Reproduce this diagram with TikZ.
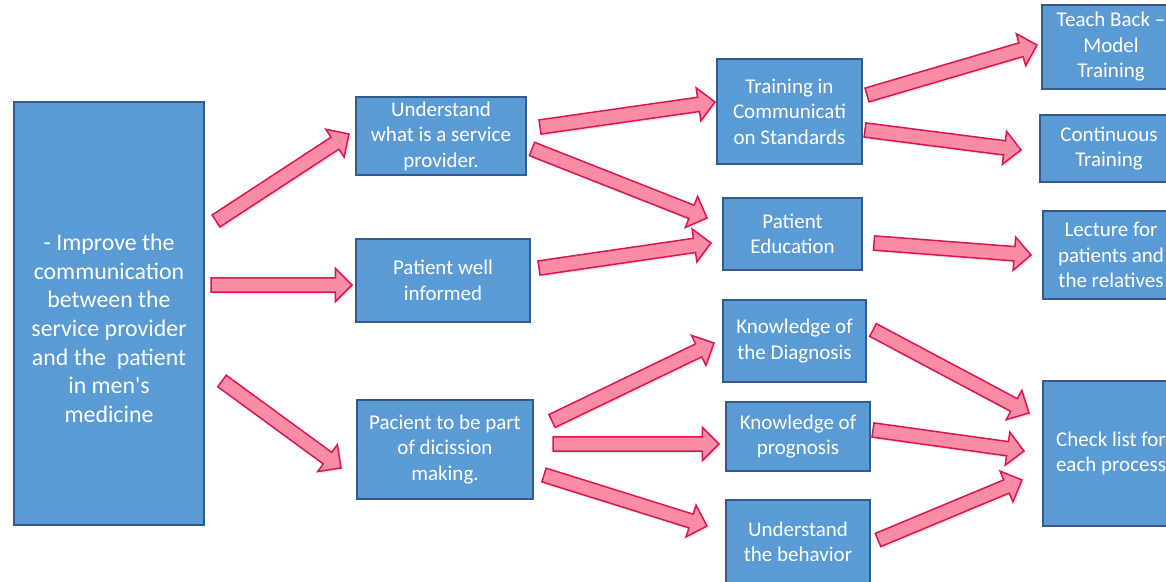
\documentclass[tikz,border=0pt]{standalone}
\usepackage{fontspec}
\setmainfont{Carlito}
\usetikzlibrary{calc,shadows}
\definecolor{boxblue}{RGB}{91,155,213}
\definecolor{boxline}{RGB}{50,90,138}
\definecolor{arrowpink}{RGB}{250,140,165}
\definecolor{arrowline}{RGB}{222,20,82}

\newcommand{\barrow}[2]{%
\filldraw[bar] let \p1=(#1), \p2=(#2), \n1={atan2(\y2-\y1,\x2-\x1)}, \n2={veclen(\x2-\x1,\y2-\y1)} in
  ($(\p1)+({\n1+90}:4.3pt)$) -- ($(\p1)+({\n1}:{\n2-10pt})+({\n1+90}:4.3pt)$)
  -- ($(\p1)+({\n1}:{\n2-10pt})+({\n1+90}:10pt)$) -- (\p2)
  -- ($(\p1)+({\n1}:{\n2-10pt})+({\n1-90}:10pt)$) -- ($(\p1)+({\n1}:{\n2-10pt})+({\n1-90}:4.3pt)$)
  -- ($(\p1)+({\n1-90}:4.3pt)$) -- cycle;}

\begin{document}
\begin{tikzpicture}[x=0.6pt, y=-0.6pt,
  box/.style={draw=boxline, line width=1.2pt, fill=boxblue, text=white, align=center, inner sep=1pt, font=\fontsize{12.6}{15.3}\selectfont},
  bar/.style={draw=arrowline, line width=0.9pt, fill=arrowpink, line join=miter, drop shadow={opacity=0.18, shadow xshift=1.2pt, shadow yshift=-1.2pt}}]

\clip (0,0) rectangle (1166,581);

\node[box, minimum width=114pt, minimum height=253.8pt, font=\fontsize{14.3}{17.2}\selectfont] at (109,313.5) (main)
  {\raisebox{-14pt}[0pt][0pt]{\begin{tabular}{@{}c@{}}- Improve the\\communication\\between the\\service provider\\and the\ \ patient\\in men\textquotesingle s\\medicine\end{tabular}}};

\node[box, minimum width=102pt, minimum height=46.8pt] at (441,136) (und) {Understand\\what is a service\\provider.};
\node[box, minimum width=104.4pt, minimum height=49.8pt] at (443,280.5) (info) {Patient well\\informed};
\node[box, minimum width=105.6pt, minimum height=59.4pt] at (445,449.5) (dec) {Pacient to be part\\of dicission\\making.};

\node[box, minimum width=87pt, minimum height=63pt] at (789.5,111.5) (train) {Training in\\Communicati\\on Standards};
\node[box, minimum width=83.4pt, minimum height=43.2pt] at (792.5,234) (edu) {Patient\\Education};
\node[box, minimum width=85.8pt, minimum height=49.2pt] at (794.5,341) (diag) {Knowledge of\\the Diagnosis};
\node[box, minimum width=86.4pt, minimum height=41.4pt] at (798,436.5) (prog) {Knowledge of\\prognosis};
\node[box, minimum width=86.4pt, minimum height=50.4pt] at (798,542) (behav) {Understand\\the behavior};

\node[box, minimum width=82.8pt, minimum height=50.4pt] at (1111,47) (teach) {Teach Back --\\Model\\Training};
\node[box, minimum width=82.8pt, minimum height=40.2pt] at (1109,148.5) (cont) {Continuous\\Training};
\node[box, minimum width=81.6pt, minimum height=52.8pt] at (1111,255) (lect) {Lecture for\\patients and\\the relatives};
\node[box, minimum width=81.6pt, minimum height=87pt] at (1111,453.5) (check) {Check list for\\each process};

\barrow{$(main.east)+(11,-92.5)$}{$(und.west)+(-6,-2)$}
\barrow{$(main.east)+(6,-28.5)$}{$(info.west)+(-3,4.5)$}
\barrow{$(main.east)+(17,67.5)$}{$(dec.west)+(-15,18.5)$}

\barrow{$(und.east)+(13,-9)$}{$(train.west)+(-1,-9.5)$}
\barrow{$(und.east)+(5,13)$}{$(edu.west)+(-15,-16)$}
\barrow{$(info.east)+(8,-12.5)$}{$(edu.west)+(-11,9)$}
\barrow{$(dec.east)+(18,-28.5)$}{$(diag.west)+(-8,2)$}
\barrow{$(dec.east)+(19,-5.5)$}{$(prog.west)+(-6,7.5)$}
\barrow{$(dec.east)+(10,25.5)$}{$(behav.west)+(-18,-16)$}

\barrow{$(train.east)+(4,-16.5)$}{$(teach.west)+(-4,-2)$}
\barrow{$(train.east)+(2,18.5)$}{$(cont.west)+(-18,1.5)$}
\barrow{$(edu.east)+(11,9)$}{$(lect.west)+(-11,0)$}
\barrow{$(diag.east)+(6,-11)$}{$(check.west)+(-13,-40.5)$}
\barrow{$(prog.east)+(2,-6.5)$}{$(check.west)+(-18,-2.5)$}
\barrow{$(behav.east)+(7,-2)$}{$(check.west)+(-20,26.5)$}
\end{tikzpicture}
\end{document}
